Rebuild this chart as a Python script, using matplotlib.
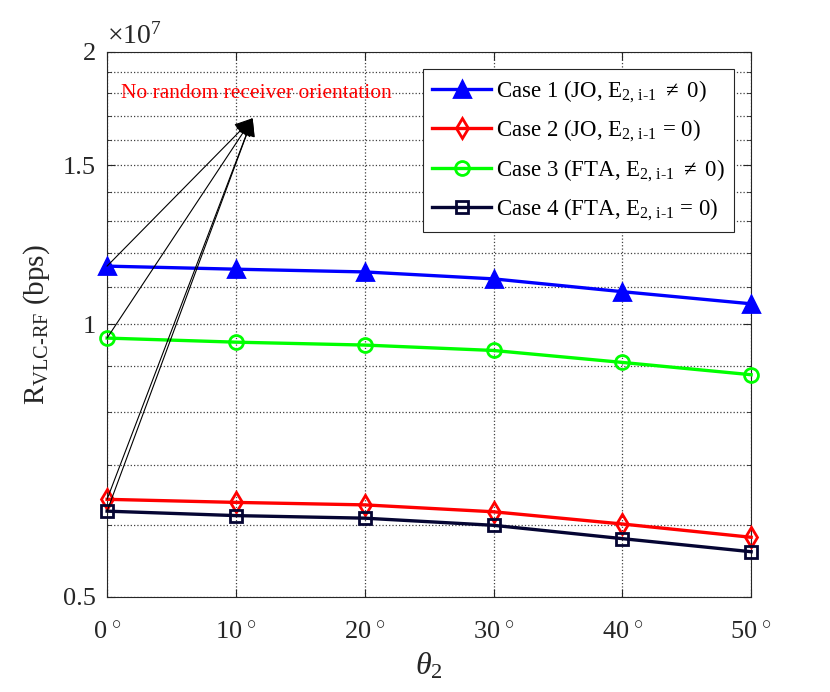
import numpy as np
import matplotlib
matplotlib.use("Agg")
import matplotlib.pyplot as plt

# datos
theta = [0, 10, 20, 30, 40, 50]
case1 = [1.160e7, 1.151e7, 1.143e7, 1.123e7, 1.087e7, 1.054e7]
case2 = [6.41e6, 6.36e6, 6.32e6, 6.21e6, 6.02e6, 5.82e6]
case3 = [9.66e6, 9.56e6, 9.49e6, 9.36e6, 9.08e6, 8.80e6]
case4 = [6.22e6, 6.15e6, 6.11e6, 6.00e6, 5.80e6, 5.61e6]

etiquetas = [
    r"Case 1 (JO, E$_{\text{2, i-1}}$ $\neq$ 0)",
    r"Case 2 (JO, E$_{\text{2, i-1}}$ = 0)",
    r"Case 3 (FTA, E$_{\text{2, i-1}}$ $\neq$ 0)",
    r"Case 4 (FTA, E$_{\text{2, i-1}}$ = 0)",
]
yticks = [5e6, 1e7, 1.5e7, 2e7]
ytick_labels = ["0.5", "1", "1.5", "2"]
xtick_labels = [r"%d$^{\,\circ}$" % t for t in theta]

TEXTO = "No random receiver orientation"
punta = (11.3, 1.69e7)

plt.rcParams['font.family'] = ['Liberation Serif', 'DejaVu Serif']
plt.rcParams['mathtext.fontset'] = 'custom'
plt.rcParams['mathtext.rm'] = 'Liberation Serif'
plt.rcParams['mathtext.it'] = 'Liberation Serif:italic'
plt.rcParams['mathtext.bf'] = 'Liberation Serif:bold'

fig = plt.figure(figsize=(8.3, 6.92), dpi=100)
ax = fig.add_axes([0.129, 0.1373, 0.776, 0.7876])

estilos = [
    (case1, 'b', '^', 'b', 11),
    (case2, 'r', 'd', 'none', 10),
    (case3, (0, 1, 0), 'o', 'none', 10),
    (case4, (0.02, 0.02, 0.2), 's', 'none', 8),
]
for (y, c, m, fc, ms), lab in zip(estilos, etiquetas):
    ax.plot(theta, y, '-', color=c, marker=m, markerfacecolor=fc,
            markeredgecolor=c, markersize=ms, markeredgewidth=2, lw=2.4,
            label=lab, clip_on=False, zorder=3)

# flechas desde los puntos en 0 grados
for y in [case1, case3, case2, case4]:
    ax.annotate("", xy=punta, xytext=(0, y[0]),
                arrowprops=dict(arrowstyle='-|>', color='k', lw=0.8,
                                mutation_scale=28, shrinkA=0, shrinkB=0),
                zorder=4)
ax.text(1.1, 1.798e7, TEXTO, color='r', fontsize=15.5, va='center', ha='left')

ax.set_yscale('log')
ax.set_xlim(0, 50)
ax.set_ylim(5e6, 2e7)
ax.set_yticks(yticks)
ax.set_yticklabels(ytick_labels)
ax.set_yticks(np.arange(6e6, 2e7, 1e6), minor=True)
ax.yaxis.set_minor_formatter(matplotlib.ticker.NullFormatter())
ax.set_xticks(theta)
ax.set_xticklabels(xtick_labels)
ax.tick_params(which='both', direction='in', top=True, right=True,
               labelsize=19, colors='0.15')
ax.tick_params(axis='y', pad=8)
ax.tick_params(axis='x', pad=18)
ax.tick_params(which='major', length=6)
ax.tick_params(which='minor', length=3)
ax.grid(which='both', linestyle=':', color='0.25', lw=0.9)
for s in ax.spines.values():
    s.set_color('0.15')

ax.text(0, 1.005, r"$\times10^{7}$", transform=ax.transAxes, fontsize=20,
        ha='left', va='bottom', color='0.15')
ax.set_ylabel(r"R$_{\text{VLC-RF}}$ (bps)", fontsize=21, color='0.15', labelpad=8)
ax.set_xlabel(r"$\theta_{\mathrm{2}}$", fontsize=23, color='0.15', labelpad=5)

leg = ax.legend(loc='upper right', fontsize=16.5, frameon=True, fancybox=False,
                edgecolor='0.15', framealpha=1, handlelength=2.6,
                borderaxespad=0.75, labelspacing=0.58, handletextpad=0.2,
                borderpad=0.4)
leg.get_frame().set_linewidth(0.8)

plt.savefig("out.png", dpi=100)
